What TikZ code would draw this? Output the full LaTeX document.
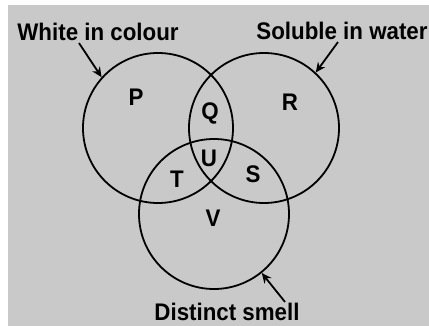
\documentclass[tikz,border=0pt]{standalone}
\usepackage{fontspec}
\setmainfont{Liberation Sans}[FakeStretch=0.93]
\usetikzlibrary{arrows.meta}

\begin{document}
\begin{tikzpicture}[x=1pt, y=-1pt,
  set/.style={draw, circle, minimum size=150pt, inner sep=0pt, line width=1.8pt},
  lbl/.style={font=\bfseries\fontsize{24}{26}\selectfont, inner sep=0pt},
  region/.style={font=\bfseries\fontsize{24}{26}\selectfont, inner sep=0pt},
  arr/.style={-{Stealth[length=10pt, width=9pt]}, line width=1.8pt}
]
  \useasboundingbox (0,0) rectangle (429,326);
  \fill[white] (0,0) rectangle (429,326);
  \fill[gray!42] (8,5) rectangle (429,326);

  % the three sets
  \node[set] (white)   at (158,128) {};
  \node[set] (soluble) at (264,128) {};
  \node[set] (smell)   at (214,214) {};

  % set names
  \node[lbl] (whitelbl)   at (98,32)  {White in colour};
  \node[lbl] (solublelbl) at (342,31) {Soluble in water};
  \node[lbl] (smelllbl)   at (227,312) {Distinct smell};

  \draw[arr] ([xshift=-19pt,yshift=-2pt]whitelbl.south) -- (white.138);
  \draw[arr] ([xshift=-4pt,yshift=-2pt]solublelbl.south) -- (soluble.47);
  \draw[arr] ([xshift=58pt,yshift=1pt]smelllbl.north) -- (smell.-51);

  % regions
  \node[region] (p) at (136,97)  {P};
  \node[region] (r) at (290,102) {R};
  \node[region] (q) at (210,113) {Q};
  \node[region] (u) at (209,158) {U};
  \node[region] (t) at (177,179) {T};
  \node[region] (s) at (253,174) {S};
  \node[region] (v) at (213,218) {V};
\end{tikzpicture}
\end{document}
